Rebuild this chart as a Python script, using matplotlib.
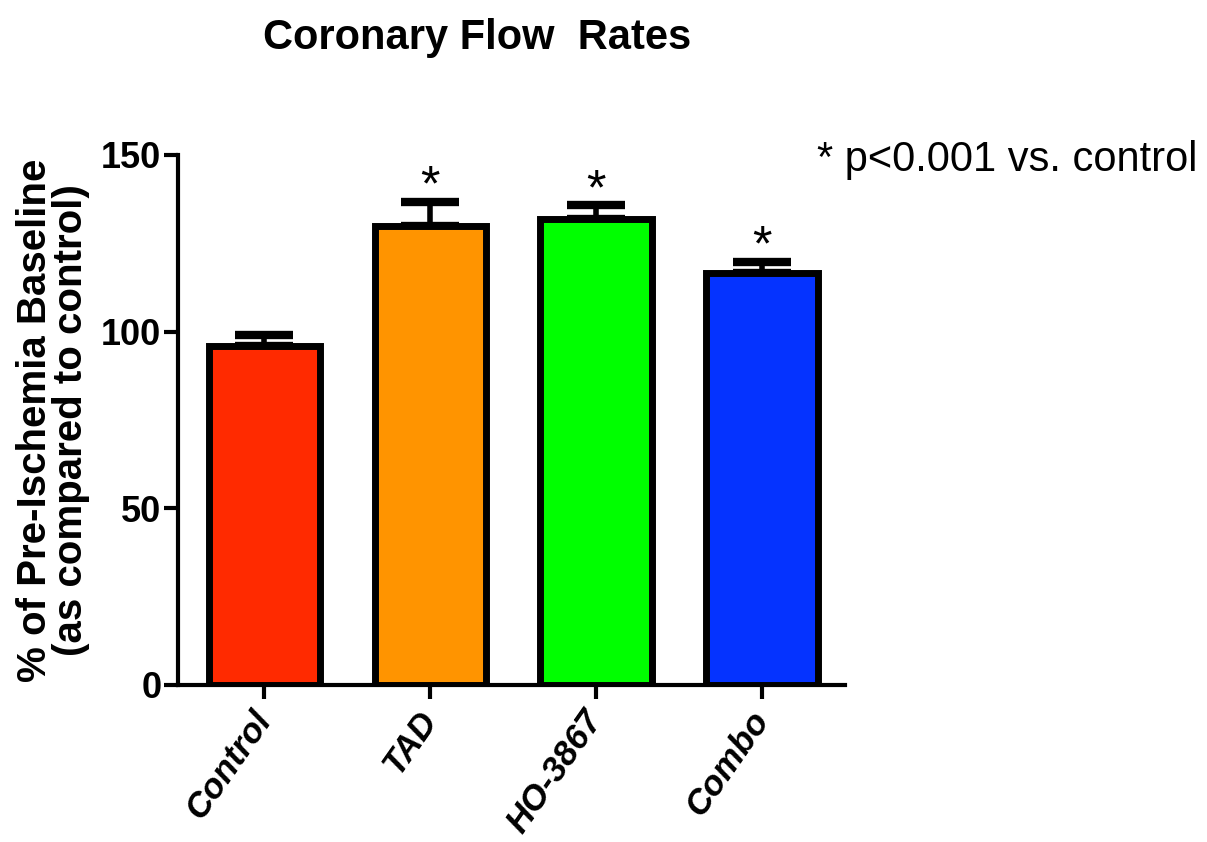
import matplotlib
matplotlib.use("Agg")
import matplotlib.pyplot as plt
from matplotlib import font_manager

groups = ["Control", "TAD", "HO-3867", "Combo"]
means = [96, 130, 132, 116.5]
sem = [3, 6.8, 3.8, 3.2]
significant = [False, True, True, True]
bar_colors = ["#FF2A00", "#FF9400", "#00FF00", "#0533FF"]
y_ticks = [0, 50, 100, 150]

names = {f.name for f in font_manager.fontManager.ttflist}
narrow = "Liberation Sans Narrow" if "Liberation Sans Narrow" in names else "Liberation Sans"
plt.rcParams["font.family"] = [narrow, "DejaVu Sans"]

fig = plt.figure(figsize=(12.07, 8.42), dpi=100)
ax = fig.add_axes([0.1475, 0.1865, 0.5525, 0.6295])

x = list(range(len(groups)))
ax.bar(x, means, width=0.67, color=bar_colors, edgecolor="black", linewidth=5, zorder=2)
eb = ax.errorbar(x, means, yerr=[[0] * len(sem), sem], fmt="none", ecolor="black",
                 elinewidth=4, capsize=21, capthick=6, zorder=1)
for line in eb.lines[1]:
    line.set_solid_capstyle("round")

for xi, m, e, s in zip(x, means, sem, significant):
    if s:
        ax.text(xi, m + e - 2.5, "*", ha="center", va="bottom", fontsize=36)

ax.set_xlim(-0.52, 3.5)
ax.set_ylim(0, 150)
ax.set_yticks(y_ticks)
ax.set_xticks(x)
ax.set_xticklabels(groups, rotation=55, ha="right", va="center", rotation_mode="anchor",
                   fontsize=25, fontweight="bold", fontstyle="italic")
for lbl in ax.get_yticklabels():
    lbl.set_fontsize(26)
    lbl.set_fontweight("bold")

for side in ("top", "right"):
    ax.spines[side].set_visible(False)
for side in ("left", "bottom"):
    ax.spines[side].set_linewidth(3)
ax.tick_params(axis="y", width=3, length=10, pad=2)
ax.tick_params(axis="x", width=3, length=10, pad=11)

ax.set_ylabel("% of Pre-Ischemia Baseline\n(as compared to control)",
              fontsize=29, fontweight="bold", labelpad=8, linespacing=0.92)

fig.text(0.395, 0.955, "Coronary Flow  Rates", ha="center", va="center",
         fontsize=30, fontweight="bold")
fig.text(0.992, 0.81, "* p<0.001 vs. control", ha="right", va="center", fontsize=30)

fig.savefig("out.png", dpi=100)
